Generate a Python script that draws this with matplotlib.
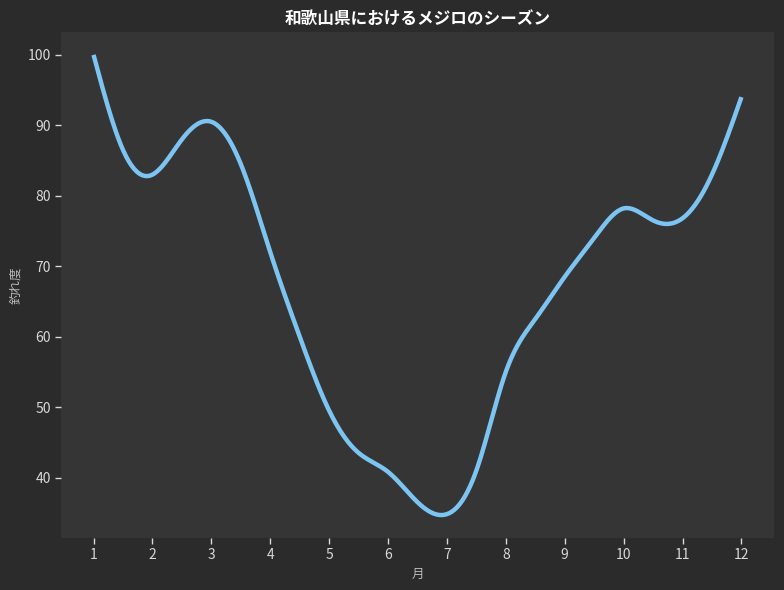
import numpy as np
import matplotlib
matplotlib.use("Agg")
import matplotlib.pyplot as plt

plt.rcParams['font.family'] = ['Noto Sans CJK JP', 'DejaVu Sans']

# half-month readings of the season curve
months = [1, 1.5, 2, 2.5, 3, 3.5, 4, 4.5, 5, 5.5, 6, 6.5,
          7, 7.5, 8, 8.5, 9, 9.5, 10, 10.5, 11, 11.5, 12]
catch = [100, 86.5, 83, 88, 90.5, 84.5, 72, 60, 49.5, 43.5, 40.8, 36.5,
         34.8, 41, 55, 62.5, 68.5, 74, 78.2, 76.5, 76.8, 83, 94]
tick_months = list(range(1, 13))

title = '和歌山県におけるメジロのシーズン'
xlabel = '月'
ylabel = '釣れ度'


def natural_spline(x, y, xs):
    # plain natural cubic spline, no scipy needed
    x = np.asarray(x, float)
    y = np.asarray(y, float)
    n = len(x)
    h = np.diff(x)
    A = np.zeros((n, n))
    b = np.zeros(n)
    A[0, 0] = A[-1, -1] = 1
    for i in range(1, n - 1):
        A[i, i - 1] = h[i - 1]
        A[i, i] = 2 * (h[i - 1] + h[i])
        A[i, i + 1] = h[i]
        b[i] = 6 * ((y[i + 1] - y[i]) / h[i] - (y[i] - y[i - 1]) / h[i - 1])
    m = np.linalg.solve(A, b)
    idx = np.clip(np.searchsorted(x, xs) - 1, 0, n - 2)
    x0, x1 = x[idx], x[idx + 1]
    hh = x1 - x0
    t0, t1 = x1 - xs, xs - x0
    return (m[idx] * t0 ** 3 / (6 * hh) + m[idx + 1] * t1 ** 3 / (6 * hh)
            + (y[idx] / hh - m[idx] * hh / 6) * t0
            + (y[idx + 1] / hh - m[idx + 1] * hh / 6) * t1)


xs = np.linspace(months[0], months[-1], 500)
ys = natural_spline(months, catch, xs)

fig = plt.figure(figsize=(7.84, 5.9), dpi=100, facecolor='#2b2b2b')
ax = fig.add_axes([0.078, 0.088, 0.909, 0.858])
ax.set_facecolor('#353535')

ax.plot(xs, ys, color='#7cc4f2', linewidth=3.2, solid_capstyle='butt')

ax.set_xticks(tick_months)
ax.set_yticks([40, 50, 60, 70, 80, 90, 100])
for s in ax.spines.values():
    s.set_visible(False)
ax.tick_params(colors='#d8d8d8', labelsize=10, length=4, width=1)

ax.set_title(title, color='white', fontsize=12, fontweight='bold', pad=6)
ax.set_xlabel(xlabel, color='#bbbbbb', fontsize=9)
ax.set_ylabel(ylabel, color='#bbbbbb', fontsize=9)

fig.savefig('out.png', dpi=100, facecolor=fig.get_facecolor())
